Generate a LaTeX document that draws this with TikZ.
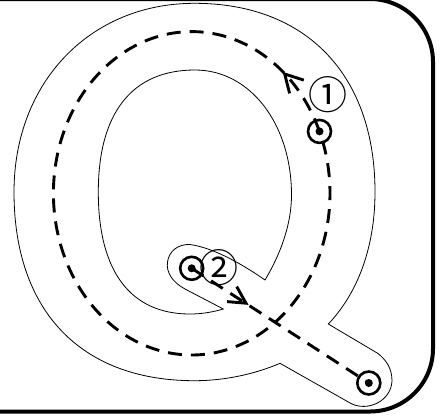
\documentclass[tikz,border=0pt]{standalone}
\usepackage{fontspec}
\newfontfamily\cjk{Noto Sans CJK SC}
\begin{document}
\begin{tikzpicture}[x=1pt,y=-1pt,
  frame/.style={line width=4pt,rounded corners=63pt},
  glyph/.style={line width=0.8pt},
  dashline/.style={line width=2.9pt,dash pattern=on 14pt off 9pt},
  barb/.style={line width=2.9pt,line join=miter},
  ring/.style={circle,draw,line width=2.6pt,minimum size=23pt,inner sep=0pt},
  lbl/.style={font=\cjk\fontsize{39}{39}\selectfont,inner sep=0pt}]
\useasboundingbox (0,0) rectangle (446,416);
% frame
\draw[frame] (-20,-1) -- (433,-1) -- (433,411.5) -- (-20,411.5);
% outer outline of Q
\draw[glyph] (328.3,324) .. controls (356,295) and (375,250) .. (375,192)
  .. controls (375,75) and (306.4,3.3) .. (194.5,3.3)
  .. controls (89.8,3.3) and (14,82.6) .. (14,192)
  .. controls (14,310.9) and (80.8,380.7) .. (194.5,380.7)
  .. controls (225,380.7) and (255,374) .. (280,363.3)
  -- (351,403.5)
  .. controls (368,412) and (391,401) .. (392,381)
  .. controls (392,368) and (386,360) .. (378,353.5)
  -- cycle;
% inner outline of Q
\draw[glyph] (265,280) .. controls (280,255) and (291.5,225) .. (291.5,195)
  .. controls (291.5,123.8) and (250,70) .. (195,70)
  .. controls (132.1,70) and (98.3,112.7) .. (98.3,192)
  .. controls (98.3,271.3) and (130.4,314) .. (190,314)
  .. controls (202,314) and (213,312) .. (223.3,309)
  -- (185,289)
  .. controls (172,282) and (166,272) .. (167.5,262)
  .. controls (169,251) and (178,244) .. (190,244.5)
  .. controls (215,248) and (245,266) .. (265,280)
  -- cycle;
% rings
\node[ring] (r1) at (319.5,131.4) {};
\node[ring] (r2) at (191.7,268.3) {};
\node[ring] (r3) at (368.8,383) {};
% dashed paths
\draw[dashline] plot[domain=-22.5:-382.5,samples=241] ({191.7+138.3*cos(\x)},{193.3+161.7*sin(\x)});
\draw[dashline] (r2.center) -- (r3.center);
% arrowheads
\coordinate (t1) at (284.7,74);
\coordinate (t2) at (246,303.2);
\draw[barb] (303.8,80.1) -- (t1) -- (289.6,93.4);
\draw[barb] (236.7,286.6) -- (t2) -- (227.1,301.6);
% dots
\fill (r1.center) circle[radius=4pt];
\fill (r2.center) circle[radius=4pt];
\fill (r3.center) circle[radius=4pt];
% labels
\node[lbl] (l1) at (327.5,95) {①};
\node[lbl] (l2) at (218.7,268) {②};
\end{tikzpicture}
\end{document}
